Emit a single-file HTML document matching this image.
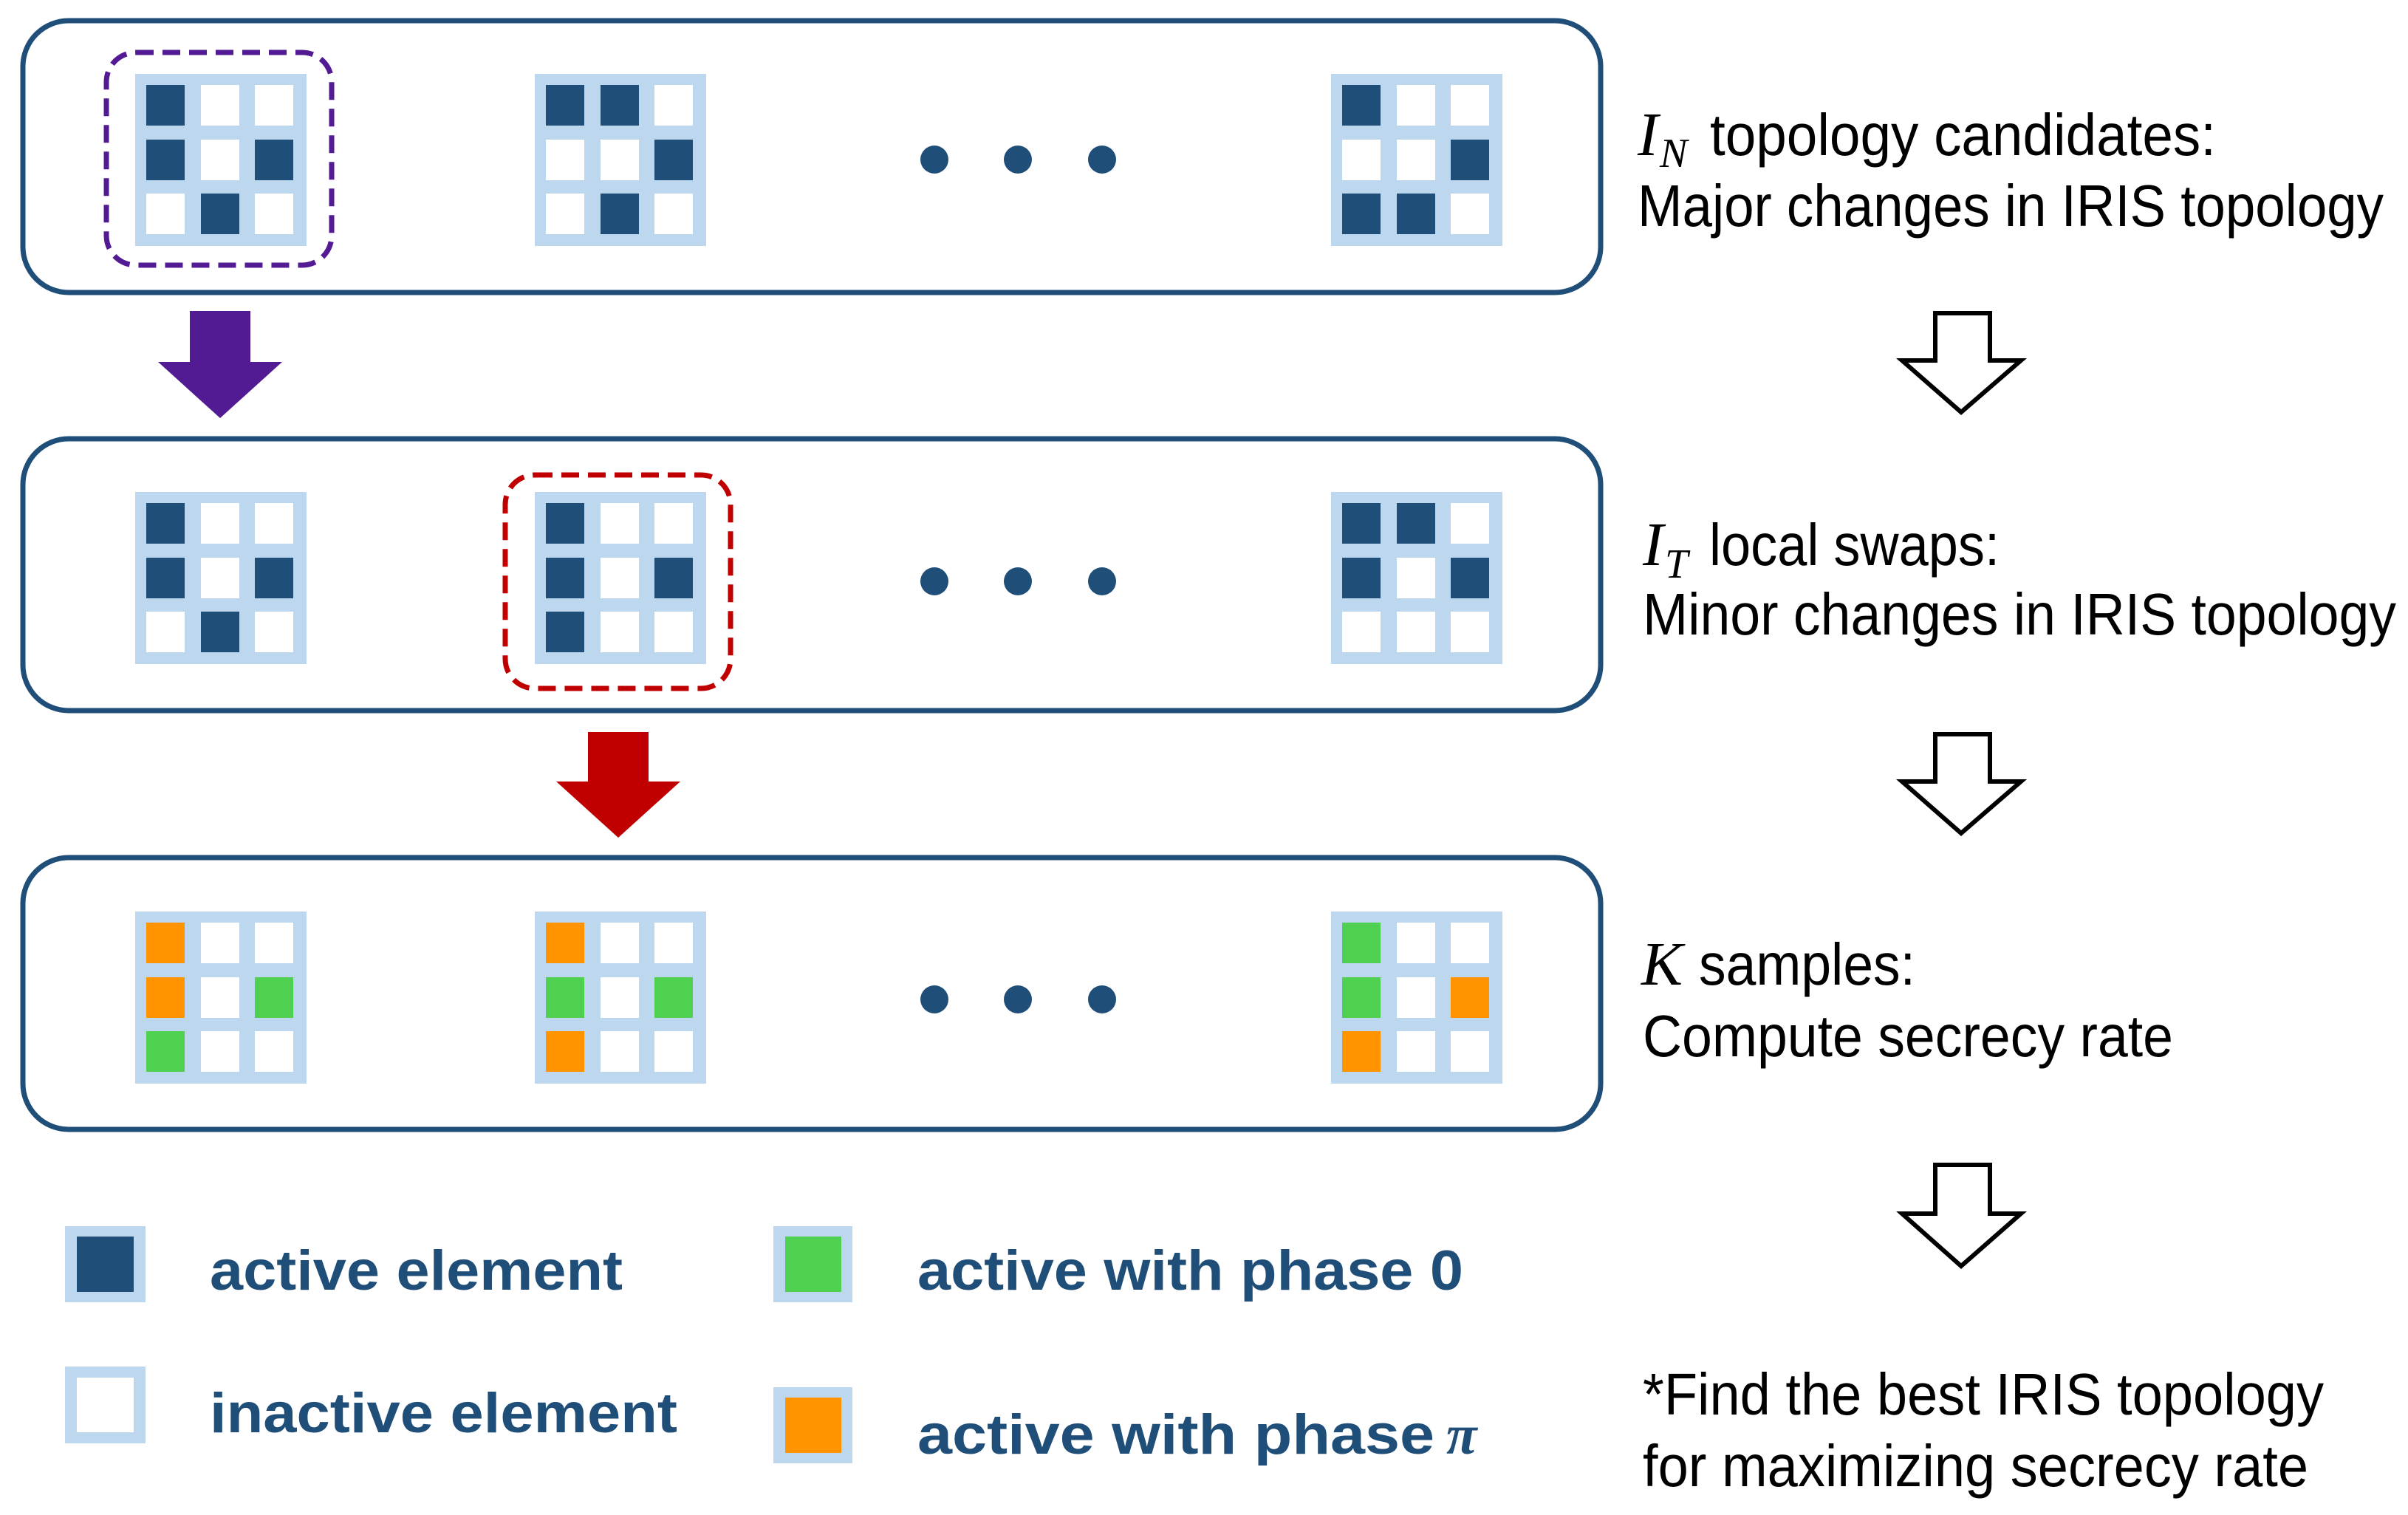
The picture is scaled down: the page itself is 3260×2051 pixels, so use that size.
<!DOCTYPE html>
<html><head><meta charset="utf-8"><style>html,body{margin:0;padding:0;background:#fff}svg{display:block}</style></head>
<body>
<svg width="3260" height="2051" viewBox="0 0 3260 2051" xmlns="http://www.w3.org/2000/svg">
<g fill="none" stroke="#1f4e79" stroke-width="7">
<rect x="31" y="28" width="2136" height="368" rx="62"/>
<rect x="31" y="594" width="2136" height="368" rx="62"/>
<rect x="31" y="1161" width="2136" height="368" rx="62"/>
</g>
<rect x="144" y="71" width="305" height="288" rx="40" fill="none" stroke="#521b93" stroke-width="7" stroke-dasharray="24,12"/>
<rect x="684" y="643" width="305" height="289" rx="40" fill="none" stroke="#c00000" stroke-width="7" stroke-dasharray="24,12"/>

<g fill="#1f4e79">
<ellipse cx="1265" cy="216" rx="19" ry="19"/><ellipse cx="1378" cy="216" rx="19" ry="19"/><ellipse cx="1492" cy="216" rx="19" ry="19"/>
<ellipse cx="1265" cy="787" rx="19" ry="19"/><ellipse cx="1378" cy="787" rx="19" ry="19"/><ellipse cx="1492" cy="787" rx="19" ry="19"/>
<ellipse cx="1265" cy="1353" rx="19" ry="19"/><ellipse cx="1378" cy="1353" rx="19" ry="19"/><ellipse cx="1492" cy="1353" rx="19" ry="19"/>
</g>

<polygon points="257,421 339,421 339,490 382,490 298,566 214,490 257,490" fill="#521b93"/>
<polygon points="796,991 878,991 878,1058 921,1058 837,1134 753,1058 796,1058" fill="#c00000"/>

<g fill="none" stroke="#000" stroke-width="6" stroke-linejoin="miter">
<polygon points="2620,424 2694,424 2694,488 2736,488 2655,558 2575,488 2620,488"/>
<polygon points="2620,994 2694,994 2694,1058 2736,1058 2655,1128 2575,1058 2620,1058"/>
<polygon points="2620,1577 2694,1577 2694,1643 2736,1643 2655,1714 2575,1643 2620,1643"/>
</g>

<g font-family="Liberation Sans, sans-serif" font-size="80" fill="#000">
<text x="2217" y="210" font-family="Liberation Serif, serif" font-style="italic" font-size="84">I</text>
<text x="2247" y="226" font-family="Liberation Serif, serif" font-style="italic" font-size="56">N</text>
<text x="2315" y="210" textLength="685" lengthAdjust="spacingAndGlyphs">topology candidates:</text>
<text x="2217" y="306" textLength="1010" lengthAdjust="spacingAndGlyphs">Major changes in IRIS topology</text>

<text x="2224" y="765" font-family="Liberation Serif, serif" font-style="italic" font-size="84">I</text>
<text x="2254" y="782" font-family="Liberation Serif, serif" font-style="italic" font-size="56">T</text>
<text x="2314" y="765" textLength="393" lengthAdjust="spacingAndGlyphs">local swaps:</text>
<text x="2224" y="859" textLength="1020" lengthAdjust="spacingAndGlyphs">Minor changes in IRIS topology</text>

<text x="2222" y="1333" font-family="Liberation Serif, serif" font-style="italic" font-size="84">K</text>
<text x="2300" y="1333" textLength="293" lengthAdjust="spacingAndGlyphs">samples:</text>
<text x="2224" y="1430" textLength="718" lengthAdjust="spacingAndGlyphs">Compute secrecy rate</text>

<text x="2224" y="1915" textLength="922" lengthAdjust="spacingAndGlyphs">*Find the best IRIS topology</text>
<text x="2224" y="2012" textLength="901" lengthAdjust="spacingAndGlyphs">for maximizing secrecy rate</text>
</g>

<rect x="88" y="1660" width="109" height="103" fill="#bdd7ee"/><rect x="104" y="1674" width="77" height="75" fill="#1f4e79"/>
<rect x="88" y="1850" width="109" height="104" fill="#bdd7ee"/><rect x="104" y="1865" width="77" height="74" fill="#fff"/>
<rect x="1047" y="1660" width="107" height="103" fill="#bdd7ee"/><rect x="1063" y="1674" width="76" height="75" fill="#50d050"/>
<rect x="1047" y="1878" width="107" height="103" fill="#bdd7ee"/><rect x="1063" y="1892" width="76" height="75" fill="#ff9400"/>
<g font-family="Liberation Sans, sans-serif" font-weight="bold" font-size="76" fill="#1f4e79">
<text x="284" y="1746" textLength="559" lengthAdjust="spacingAndGlyphs">active element</text>
<text x="284" y="1939" textLength="633" lengthAdjust="spacingAndGlyphs">inactive element</text>
<text x="1242" y="1746" textLength="739" lengthAdjust="spacingAndGlyphs">active with phase 0</text>
<text x="1242" y="1968" textLength="700" lengthAdjust="spacingAndGlyphs">active with phase</text>
<text x="1958" y="1968" font-family="Liberation Serif, serif" font-style="italic">π</text>
</g>

<g id="g"></g>
<script>
(function(){
var D='#1f4e79',W='#fff',G='#50d050',O='#ff9400';
var grids=[
[183,100,[D,W,W,D,W,D,W,D,W]],
[724,100,[D,D,W,W,W,D,W,D,W]],
[1802,100,[D,W,W,W,W,D,D,D,W]],
[183,666,[D,W,W,D,W,D,W,D,W]],
[724,666,[D,W,W,D,W,D,D,W,W]],
[1802,666,[D,D,W,D,W,D,W,W,W]],
[183,1234,[O,W,W,O,W,G,G,W,W]],
[724,1234,[O,W,W,G,W,G,O,W,W]],
[1802,1234,[G,W,W,G,W,O,O,W,W]]
];
var ns='http://www.w3.org/2000/svg',g=document.getElementById('g');
function r(x,y,w,h,f){var e=document.createElementNS(ns,'rect');e.setAttribute('x',x);e.setAttribute('y',y);e.setAttribute('width',w);e.setAttribute('height',h);e.setAttribute('fill',f);g.appendChild(e);}
var off=[15,89,162];
grids.forEach(function(q){r(q[0],q[1],232,233,'#bdd7ee');for(var i=0;i<9;i++){r(q[0]+off[i%3],q[1]+off[Math.floor(i/3)],52,55,q[2][i]);}});
})();
</script>
</svg>
</body></html>
